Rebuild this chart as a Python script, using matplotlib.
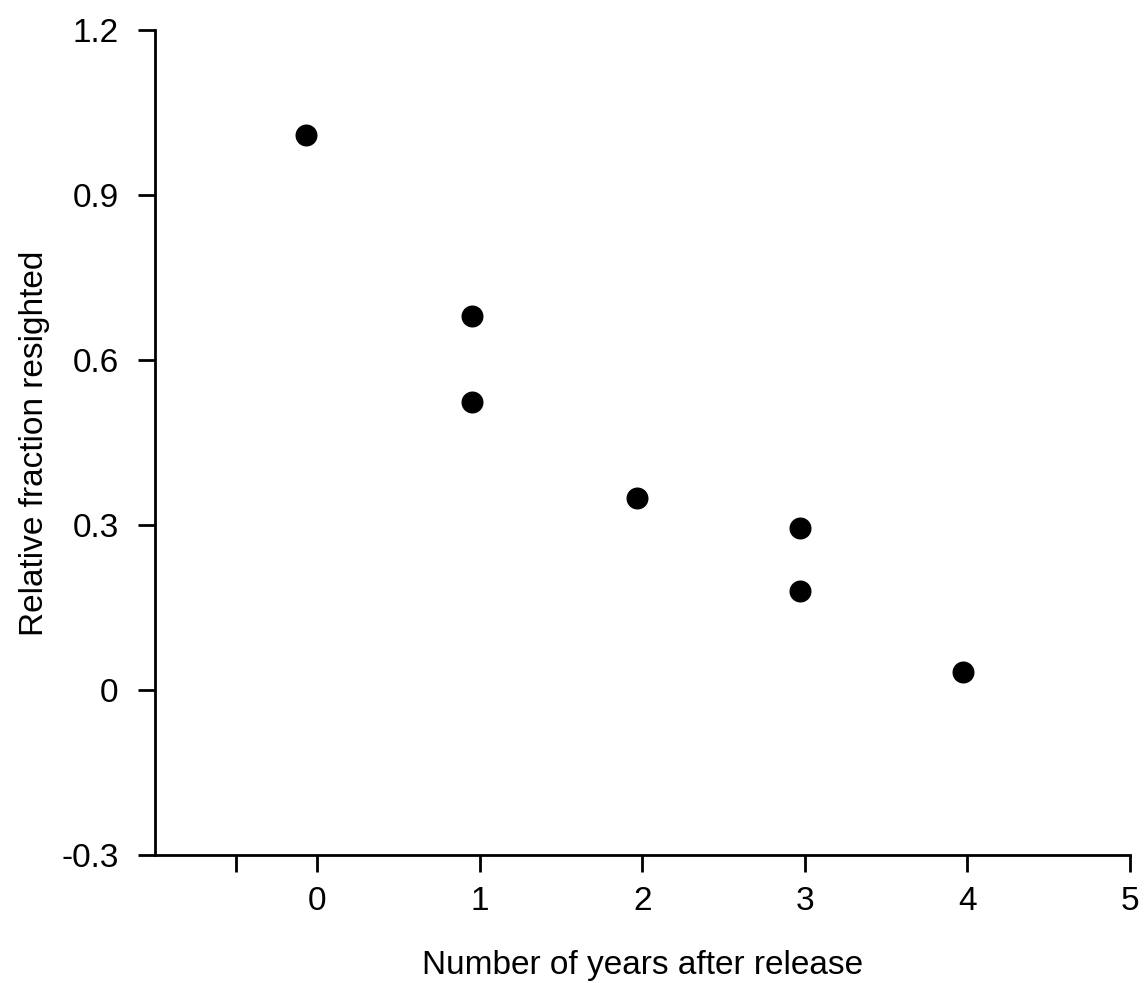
import matplotlib
matplotlib.use("Agg")
import matplotlib.pyplot as plt

years = [-0.07, 0.95, 0.95, 1.97, 2.97, 2.97, 3.97]
fraction = [1.01, 0.68, 0.525, 0.35, 0.296, 0.18, 0.033]
xticks = [-0.5, 0, 1, 2, 3, 4, 5]
xticklabels = ["", "0", "1", "2", "3", "4", "5"]
yticks = [-0.3, 0, 0.3, 0.6, 0.9, 1.2]
yticklabels = ["-0.3", "0", "0.3", "0.6", "0.9", "1.2"]

plt.rcParams['font.family'] = ['Liberation Sans', 'DejaVu Sans']
fig = plt.figure(figsize=(11.46, 9.83), dpi=100)
ax = fig.add_axes([0.135, 0.13, 0.851, 0.839])
ax.scatter(years, fraction, s=220, color='black', zorder=3)
ax.set_xlim(-1, 5)
ax.set_ylim(-0.3, 1.2)
ax.set_xticks(xticks)
ax.set_xticklabels(xticklabels)
ax.set_yticks(yticks)
ax.set_yticklabels(yticklabels)
for s in ['top', 'right']:
    ax.spines[s].set_visible(False)
for s in ['left', 'bottom']:
    ax.spines[s].set_linewidth(2)
ax.tick_params(axis='both', direction='out', length=12, width=2, labelsize=24, pad=10)
ax.tick_params(axis='y', pad=14)
ax.set_xlabel("Number of years after release", fontsize=24, labelpad=24)
ax.set_ylabel("Relative fraction resighted", fontsize=24, labelpad=8)
fig.savefig("out.png", dpi=100)
